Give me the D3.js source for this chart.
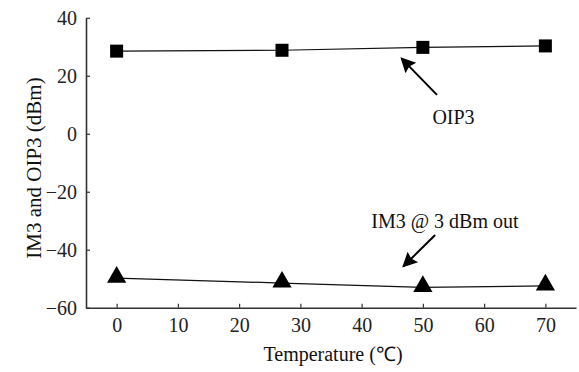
<!DOCTYPE html>
<html lang="en">
  <head>
    <meta charset="UTF-8" />
    <title>IM3 and OIP3 vs Temperature</title>
    <script src="https://d3js.org/d3.v7.min.js"></script>
    <style>
      body {
        margin: 0;
        background: white;
      }
      svg {
        display: block;
      }
      svg text {
        font-family: 'Liberation Serif', 'Times New Roman', serif !important;
      }
    </style>
  </head>
  <body>
    <svg width="579" height="372"></svg>
    <script>
      const temps = [0, 27, 50, 70];
      const oip3 = [28.5, 28.8, 29.8, 30.3];
      const im3 = [-49.8, -51.5, -53, -52.5];
      const xTicks = [0, 10, 20, 30, 40, 50, 60, 70];
      const yTicks = [-60, -40, -20, 0, 20, 40];

      const svg = d3.select('svg');

      const x = d3.scaleLinear().domain([-5, 75]).range([86, 576]);
      const y = d3.scaleLinear().domain([-60, 40]).range([307.7, 17.8]);

      const axisColor = '#333';

      // y axis, ticks pointing inward
      const yAxis = svg
        .append('g')
        .attr('transform', `translate(${x(-5)},0)`)
        .call(d3.axisLeft(y).tickValues(yTicks).tickSize(-4).tickPadding(9).tickSizeOuter(0));

      // x axis, ticks pointing inward
      const xAxis = svg
        .append('g')
        .attr('transform', `translate(0,${y(-60)})`)
        .call(d3.axisBottom(x).tickValues(xTicks).tickSize(-4).tickPadding(10).tickSizeOuter(0));

      [xAxis, yAxis].forEach((g) => {
        g.attr('font-size', 20);
        g.select('.domain').attr('stroke', axisColor).attr('stroke-width', 1.6);
        g.selectAll('.tick line').attr('stroke', axisColor).attr('stroke-width', 1.2);
        g.selectAll('.tick text').attr('fill', '#222');
      });

      const oipPts = temps.map((t, i) => [t, oip3[i]]);
      const imPts = temps.map((t, i) => [t, im3[i]]);

      const line = d3
        .line()
        .x((d) => x(d[0]))
        .y((d) => y(d[1]));

      svg.append('path').datum(oipPts).attr('fill', 'none').attr('stroke', '#111').attr('stroke-width', 1.2).attr('d', line);
      svg.append('path').datum(imPts).attr('fill', 'none').attr('stroke', '#111').attr('stroke-width', 1.2).attr('d', line);

      svg
        .selectAll('.sq')
        .data(oipPts)
        .join('rect')
        .attr('x', (d) => x(d[0]) - 6.5)
        .attr('y', (d) => y(d[1]) - 6.5)
        .attr('width', 13)
        .attr('height', 13)
        .attr('fill', '#000');

      const tri = d3.symbol().type(d3.symbolTriangle).size(160);
      svg
        .selectAll('.tri')
        .data(imPts)
        .join('path')
        .attr('transform', (d) => `translate(${x(d[0])},${y(d[1]) - 1})`)
        .attr('d', tri)
        .attr('fill', '#000');

      // annotations
      svg
        .append('defs')
        .append('marker')
        .attr('id', 'head')
        .attr('viewBox', '0 0 10 10')
        .attr('refX', 9)
        .attr('refY', 5)
        .attr('markerWidth', 18)
        .attr('markerHeight', 15)
        .attr('markerUnits', 'userSpaceOnUse')
        .attr('orient', 'auto')
        .append('path')
        .attr('d', 'M0,0 L10,5 L0,10 L1.5,5 Z')
        .attr('fill', '#000');

      const notes = [
        { text: 'OIP3', tx: 55, ty: 3.5, from: [52.3, 13.4], to: [46.5, 26] },
        { text: 'IM3 @ 3 dBm out', tx: 53.6, ty: -32.5, from: [52, -34.9], to: [46.8, -45.8] },
      ];

      notes.forEach((n) => {
        svg
          .append('text')
          .attr('x', x(n.tx))
          .attr('y', y(n.ty))
          .attr('text-anchor', 'middle')
          .attr('font-size', 20)
          .attr('fill', '#111')
          .text(n.text);
        svg
          .append('line')
          .attr('x1', x(n.from[0]))
          .attr('y1', y(n.from[1]))
          .attr('x2', x(n.to[0]))
          .attr('y2', y(n.to[1]))
          .attr('stroke', '#000')
          .attr('stroke-width', 2)
          .attr('marker-end', 'url(#head)');
      });

      svg
        .append('text')
        .attr('x', 333)
        .attr('y', 361)
        .attr('text-anchor', 'middle')
        .attr('font-size', 20)
        .attr('fill', '#111')
        .text('Temperature (\u2103)');

      svg
        .append('text')
        .attr('transform', 'rotate(-90)')
        .attr('x', -168)
        .attr('y', 41)
        .attr('text-anchor', 'middle')
        .attr('font-size', 21)
        .attr('fill', '#111')
        .text('IM3 and OIP3 (dBm)');
    </script>
  </body>
</html>
